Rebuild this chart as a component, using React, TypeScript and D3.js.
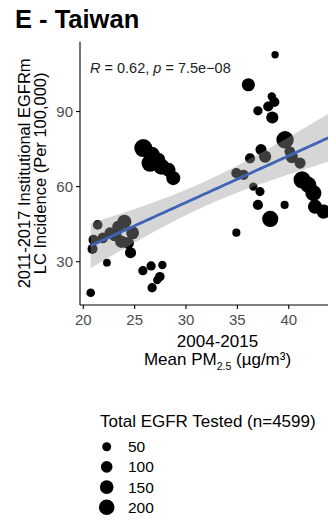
import React from "react";
import * as d3 from "d3";

// PM2.5 (x), incidence (y), EGFR tested (size)
const pm25 = [
  20.72, 22.3, 21.4, 21.0, 20.9, 24.0, 23.4, 23.1, 23.7, 24.8, 24.35, 21.9, 22.6, 24.6,
  25.8, 26.6, 27.7, 27.45, 27.2, 26.7,
  25.84, 26.66, 26.5, 27.6, 28.3, 28.76, 27.3,
  38.67, 36.07, 38.35, 38.6, 38.0, 37.0, 38.4, 39.64, 37.3, 36.23, 37.7, 40.3, 41.1,
  34.9, 35.6, 36.55, 37.2, 41.3, 41.9, 42.4, 42.56, 43.4, 37.0, 38.2, 39.6, 34.9, 40.1,
];
const incidence = [
  17.6, 29.6, 44.7, 38.7, 35.1, 46.0, 44.0, 40.7, 38.0, 41.5, 37.5, 39.5, 41.5, 33.6,
  26.4, 28.3, 28.7, 24.0, 22.7, 19.6,
  75.4, 72.7, 69.4, 68.0, 66.7, 63.4, 70.7,
  112.7, 100.7, 96.0, 93.8, 92.0, 90.3, 87.6, 78.7, 74.8, 71.3, 72.0, 71.8, 69.4,
  65.4, 64.7, 60.0, 58.0, 62.7, 60.7, 57.4, 52.0, 50.0, 52.7, 47.1, 52.7, 41.6, 74.0,
];
const tested = [
  45, 30, 60, 70, 70, 160, 110, 130, 120, 130, 110, 80, 90, 90,
  55, 55, 40, 60, 40, 55,
  280, 220, 250, 220, 160, 160, 160,
  25, 137, 40, 70, 70, 55, 113, 260, 90, 71, 113, 113, 90,
  71, 71, 40, 53, 250, 220, 220, 163, 163, 71, 221, 36, 36, 80,
];

const xTicks = [20, 25, 30, 35, 40];
const yTicks = [30, 60, 90];
const legendValues = [50, 100, 150, 200];
const xLimits = [19.68, 46.45];
const yLimits = [12.7, 117.9];
const fitEndX = 45.2;
const statLabel = { r: "0.62", p: "7.5e\u221208" };

const FONT = "'Liberation Sans', Arial, Helvetica, sans-serif";

export default function App() {
  const W = 328;
  const H = 520;
  const left = 80;
  const right = 355;
  const top = 41.7;
  const bottom = 305;

  const x = d3.scaleLinear().domain(xLimits).range([left, right]);
  const y = d3.scaleLinear().domain(yLimits).range([bottom, top]);
  const area = d3.scaleLinear().domain([0, 200]).range([7, 60]);
  const r = (v: number) => Math.sqrt(Math.max(area(v), 1));

  // linear fit + 95% CI
  const n = pm25.length;
  const mx = d3.mean(pm25) as number;
  const my = d3.mean(incidence) as number;
  let sxx = 0, sxy = 0;
  for (let i = 0; i < n; i++) {
    sxx += (pm25[i] - mx) ** 2;
    sxy += (pm25[i] - mx) * (incidence[i] - my);
  }
  const slope = sxy / sxx;
  const icpt = my - slope * mx;
  let sse = 0;
  for (let i = 0; i < n; i++) sse += (incidence[i] - (icpt + slope * pm25[i])) ** 2;
  const s = Math.sqrt(sse / (n - 2));
  const tq = 2.007;
  const x0 = d3.min(pm25) as number;
  const xs = d3.range(0, 81).map((k) => x0 + ((fitEndX - x0) * k) / 80);
  const band = xs.map((xv) => {
    const f = icpt + slope * xv;
    const se = s * Math.sqrt(1 / n + (xv - mx) ** 2 / sxx);
    return { xv, f, lo: f - tq * se, hi: f + tq * se };
  });
  const areaPath = d3
    .area<any>()
    .x((d) => x(d.xv))
    .y0((d) => y(d.lo))
    .y1((d) => y(d.hi))(band) as string;
  const linePath = d3
    .line<any>()
    .x((d) => x(d.xv))
    .y((d) => y(d.f))(band) as string;

  const order = d3.range(n);

  return (
    <svg
      width={W}
      height={H}
      style={{ position: "absolute", left: 0, top: 0, background: "#fff" }}
      fontFamily={FONT}
    >
      <defs>
        <clipPath id="panel">
          <rect x={left} y={top} width={right - left} height={bottom - top} />
        </clipPath>
      </defs>
      <text x={15} y={28.3} fontSize={25.5} fontWeight="bold" fill="#000">
        E - Taiwan
      </text>

      <g clipPath="url(#panel)">
        {order.map((i) => (
          <circle key={i} cx={x(pm25[i])} cy={y(incidence[i])} r={r(tested[i])} fill="#000" />
        ))}
        <path d={areaPath} fill="#999999" fillOpacity={0.4} />
        <path d={linePath} fill="none" stroke="#3F63B5" strokeWidth={2.8} />
      </g>

      <text x={90} y={72.5} fontSize={14.5} fill="#222">
        <tspan fontStyle="italic">R</tspan>
        <tspan> = {statLabel.r}, </tspan>
        <tspan fontStyle="italic">p</tspan>
        <tspan> = {statLabel.p}</tspan>
      </text>

      {/* axes */}
      <line x1={left} x2={left} y1={top} y2={bottom} stroke="#000" strokeWidth={1.1} />
      <line x1={left} x2={right} y1={bottom} y2={bottom} stroke="#000" strokeWidth={1.1} />
      {yTicks.map((t) => (
        <g key={t}>
          <line x1={left - 4} x2={left} y1={y(t)} y2={y(t)} stroke="#000" strokeWidth={1.1} />
          <text x={left - 7} y={y(t)} dy="0.36em" textAnchor="end" fontSize={15} fill="#4D4D4D">
            {t}
          </text>
        </g>
      ))}
      {xTicks.map((t) => (
        <g key={t}>
          <line x1={x(t)} x2={x(t)} y1={bottom} y2={bottom + 4} stroke="#000" strokeWidth={1.1} />
          <text x={x(t)} y={bottom + 20} textAnchor="middle" fontSize={15} fill="#4D4D4D">
            {t}
          </text>
        </g>
      ))}

      {/* axis titles */}
      <text textAnchor="middle" fontSize={17} fill="#000" x={(left + right) / 2} y={347}>
        2004-2015
      </text>
      <text textAnchor="middle" fontSize={17} fill="#000" x={(left + right) / 2} y={365}>
        Mean PM
        <tspan fontSize={10.5} dy={4.5}>2.5</tspan>
        <tspan dy={-4.5}> (µg/m³)</tspan>
      </text>
      <g transform={`translate(0, ${(top + bottom) / 2}) rotate(-90)`}>
        <text textAnchor="middle" fontSize={16.5} fill="#000" x={0} y={29.5}>
          2011-2017 Institutional EGFRm
        </text>
        <text textAnchor="middle" fontSize={16.5} fill="#000" x={0} y={46}>
          LC Incidence (Per 100,000)
        </text>
      </g>

      {/* legend */}
      <text x={100} y={427} fontSize={17} fill="#000">
        Total EGFR Tested (n=4599)
      </text>
      {legendValues.map((v, k) => {
        const cy = 446.7 + k * 20.2;
        return (
          <g key={v}>
            <circle cx={106.7} cy={cy} r={r(v)} fill="#000" />
            <text x={128} y={cy} dy="0.36em" fontSize={15.5} fill="#000">
              {v}
            </text>
          </g>
        );
      })}
    </svg>
  );
}
